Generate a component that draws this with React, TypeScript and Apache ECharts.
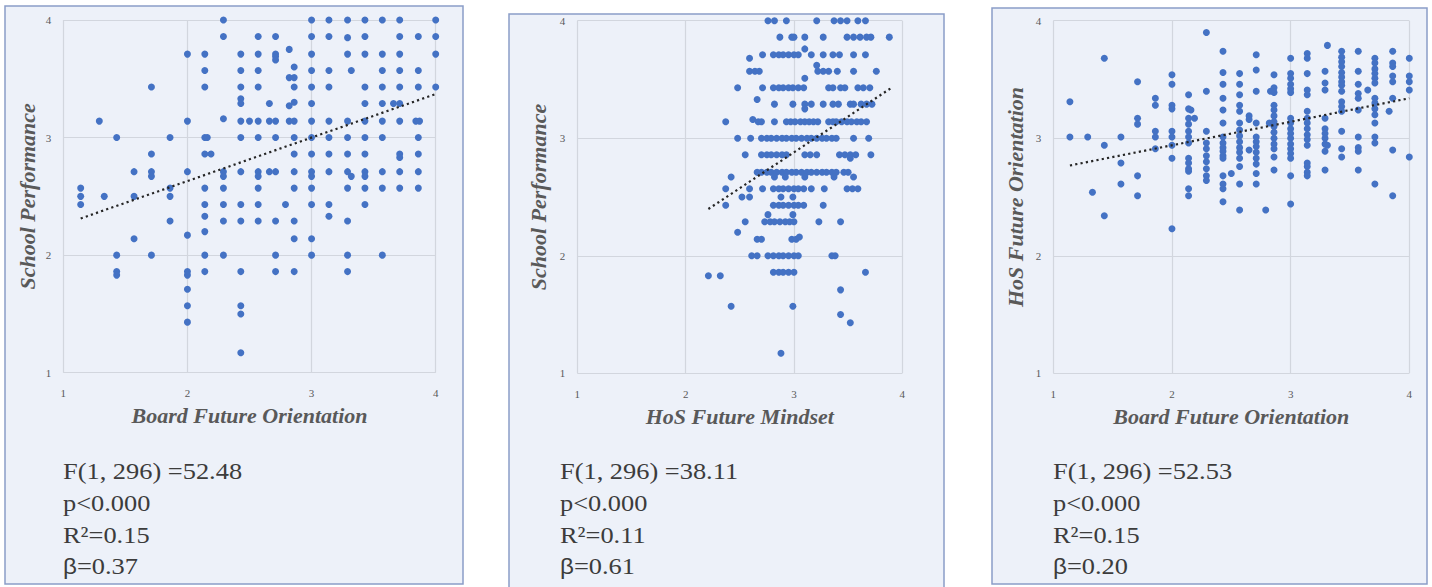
import React, { useEffect, useRef } from "react";
import * as echarts from "echarts";

// Board Future Orientation (x) vs School Performance (y)
const boardVsSchool: [number, number][] = [
  [1.14, 2.57], [1.14, 2.5], [1.14, 2.43],
  [1.29, 3.14],
  [1.33, 2.5],
  [1.43, 3.0], [1.43, 2.0], [1.43, 1.86], [1.43, 1.83],
  [1.57, 2.71], [1.57, 2.5], [1.57, 2.14],
  [1.71, 3.43], [1.71, 2.86], [1.71, 2.71], [1.71, 2.67], [1.71, 2.0],
  [1.86, 3.0], [1.86, 2.57], [1.86, 2.5], [1.86, 2.29],
  [2.0, 3.71], [2.0, 3.14], [2.0, 2.71], [2.0, 2.17], [2.0, 1.86], [2.0, 1.83], [2.0, 1.71], [2.0, 1.57], [2.0, 1.43],
  [2.14, 3.71], [2.14, 3.57], [2.14, 3.43], [2.14, 3.0], [2.16, 3.0], [2.14, 2.86], [2.19, 2.86], [2.14, 2.57],
  [2.14, 2.43], [2.14, 2.33], [2.14, 2.2], [2.14, 2.0], [2.14, 1.86],
  [2.29, 4.0], [2.29, 3.86], [2.29, 3.16], [2.29, 2.71], [2.29, 2.67], [2.29, 2.57], [2.29, 2.43], [2.29, 2.29], [2.29, 2.0],
  [2.43, 3.71], [2.43, 3.57], [2.43, 3.43], [2.43, 3.33], [2.43, 3.29], [2.43, 3.14], [2.43, 3.0], [2.43, 2.71],
  [2.43, 2.43], [2.43, 2.29], [2.43, 1.86], [2.43, 1.57], [2.43, 1.5], [2.43, 1.17],
  [2.5, 3.14],
  [2.57, 3.86], [2.57, 3.71], [2.57, 3.57], [2.57, 3.43], [2.57, 3.14], [2.57, 3.0], [2.57, 2.71], [2.57, 2.67],
  [2.57, 2.57], [2.57, 2.43], [2.57, 2.29],
  [2.66, 3.29], [2.66, 3.14], [2.66, 2.71],
  [2.71, 3.86], [2.71, 3.71], [2.71, 3.69], [2.71, 3.66], [2.71, 3.14], [2.71, 3.0], [2.71, 2.71], [2.71, 2.29], [2.71, 2.0], [2.71, 1.86],
  [2.79, 2.43],
  [2.82, 3.75], [2.82, 3.51], [2.82, 3.27], [2.82, 3.14],
  [2.86, 3.6], [2.86, 3.51], [2.86, 3.43], [2.86, 3.3], [2.86, 3.14], [2.86, 3.0], [2.86, 2.86], [2.86, 2.71],
  [2.86, 2.57], [2.86, 2.29], [2.86, 2.14], [2.86, 1.86],
  [3.0, 4.0], [3.0, 3.86], [3.0, 3.71], [3.0, 3.57], [3.0, 3.43], [3.0, 3.29], [3.0, 3.14], [3.0, 3.0], [3.0, 2.86],
  [3.0, 2.71], [3.0, 2.67], [3.0, 2.57], [3.0, 2.43], [3.0, 2.14], [3.0, 2.0],
  [3.14, 4.0], [3.14, 3.86], [3.14, 3.57], [3.14, 3.43], [3.14, 3.14], [3.14, 3.0], [3.14, 2.86], [3.14, 2.71], [3.14, 2.43], [3.14, 2.33],
  [3.29, 4.0], [3.29, 3.85], [3.29, 3.71], [3.29, 3.14], [3.29, 3.0], [3.29, 2.86], [3.29, 2.71], [3.29, 2.57],
  [3.29, 2.29], [3.29, 2.0], [3.29, 1.86],
  [3.32, 3.57], [3.32, 2.67],
  [3.43, 4.0], [3.43, 3.86], [3.43, 3.71], [3.43, 3.43], [3.43, 3.29], [3.43, 3.14], [3.43, 3.0], [3.43, 2.86],
  [3.43, 2.71], [3.43, 2.67], [3.43, 2.57], [3.43, 2.43],
  [3.57, 4.0], [3.57, 3.71], [3.57, 3.57], [3.57, 3.43], [3.57, 3.29], [3.57, 3.14], [3.57, 3.0], [3.57, 2.71], [3.57, 2.57], [3.57, 2.0],
  [3.66, 3.29],
  [3.71, 4.0], [3.71, 3.86], [3.71, 3.71], [3.71, 3.57], [3.71, 3.43], [3.71, 3.29], [3.71, 3.14], [3.71, 2.86],
  [3.71, 2.83], [3.71, 2.71], [3.71, 2.57],
  [3.86, 3.86], [3.86, 3.57], [3.86, 3.43], [3.84, 3.14], [3.87, 3.14], [3.86, 3.0], [3.86, 2.86], [3.86, 2.71], [3.86, 2.57],
  [4.0, 4.0], [4.0, 3.86], [4.0, 3.71], [4.0, 3.43],
];

// HoS Future Mindset (x) vs School Performance (y)
const mindsetVsSchool: [number, number][] = [
  [2.76, 4.0], [2.82, 4.0], [2.93, 4.0], [3.21, 4.0], [3.37, 4.0], [3.43, 4.0], [3.49, 4.0], [3.59, 4.0], [3.66, 4.0],
  [2.87, 3.86], [2.98, 3.86], [3.0, 3.86], [3.1, 3.86], [3.27, 3.86], [3.49, 3.86], [3.55, 3.86], [3.61, 3.86],
  [3.67, 3.86], [3.71, 3.86], [3.88, 3.86],
  [2.59, 3.68], [2.71, 3.71], [2.81, 3.71], [2.86, 3.71], [2.9, 3.71], [2.95, 3.71], [3.0, 3.71], [3.04, 3.71],
  [3.1, 3.76], [3.16, 3.71], [3.27, 3.71], [3.36, 3.71], [3.42, 3.71], [3.55, 3.71], [3.66, 3.71],
  [2.59, 3.57], [2.64, 3.57], [2.68, 3.57], [3.21, 3.62], [3.22, 3.57], [3.27, 3.57], [3.32, 3.57], [3.4, 3.57],
  [3.55, 3.57], [3.76, 3.57], [3.1, 3.51],
  [2.48, 3.43], [2.66, 3.33], [2.71, 3.43], [2.81, 3.43], [2.86, 3.43], [2.9, 3.43], [2.95, 3.43], [2.99, 3.43],
  [3.04, 3.43], [3.09, 3.43], [3.32, 3.43], [3.36, 3.43], [3.43, 3.43], [3.47, 3.43], [3.59, 3.43], [3.64, 3.43], [3.7, 3.43],
  [2.82, 3.29], [2.99, 3.29], [3.1, 3.29], [3.1, 3.25], [3.16, 3.29], [3.27, 3.29], [3.36, 3.29], [3.41, 3.29],
  [3.52, 3.29], [3.55, 3.29], [3.62, 3.29], [3.67, 3.29], [3.72, 3.29],
  [2.37, 3.14], [2.62, 3.16], [2.67, 3.14], [2.7, 3.14], [2.82, 3.14], [2.93, 3.14], [2.97, 3.14], [3.01, 3.14],
  [3.06, 3.14], [3.1, 3.14], [3.14, 3.14], [3.18, 3.14], [3.22, 3.14], [3.32, 3.14], [3.36, 3.14], [3.39, 3.14],
  [3.44, 3.14], [3.49, 3.14], [3.53, 3.14], [3.58, 3.14], [3.62, 3.14], [3.67, 3.14],
  [2.48, 3.0], [2.6, 3.0], [2.7, 3.0], [2.75, 3.0], [2.79, 3.0], [2.84, 3.0], [2.89, 3.0], [2.93, 3.0], [2.98, 3.0],
  [3.02, 3.0], [3.07, 3.0], [3.12, 3.0], [3.16, 3.0], [3.21, 3.0], [3.26, 3.0], [3.3, 3.0], [3.35, 3.0], [3.39, 3.0],
  [3.55, 3.0], [3.69, 3.0],
  [2.55, 2.86], [2.7, 2.86], [2.75, 2.86], [2.79, 2.86], [2.84, 2.86], [2.89, 2.86], [2.93, 2.86], [3.1, 2.86],
  [3.15, 2.86], [3.21, 2.86], [3.42, 2.86], [3.47, 2.86], [3.52, 2.86], [3.57, 2.86], [3.52, 2.83], [3.71, 2.86],
  [2.66, 2.71], [2.7, 2.71], [2.75, 2.71], [2.79, 2.71], [2.84, 2.71], [2.89, 2.71], [2.93, 2.71], [2.98, 2.71],
  [3.02, 2.71], [3.07, 2.71], [3.12, 2.71], [3.16, 2.71], [3.21, 2.71], [3.26, 2.71], [3.3, 2.71], [3.35, 2.71],
  [3.39, 2.71], [3.46, 2.71], [3.5, 2.71],
  [2.42, 2.67], [2.82, 2.67], [2.92, 2.67], [3.1, 2.67], [3.37, 2.67], [3.55, 2.67],
  [2.37, 2.57], [2.59, 2.57], [2.71, 2.57], [2.81, 2.57], [2.86, 2.57], [2.9, 2.57], [2.95, 2.57], [3.0, 2.57],
  [3.04, 2.57], [3.09, 2.57], [3.16, 2.57], [3.28, 2.57], [3.49, 2.57], [3.54, 2.57], [3.59, 2.57],
  [2.52, 2.5], [2.59, 2.5], [2.88, 2.5], [2.99, 2.5],
  [2.37, 2.43], [2.81, 2.43], [2.86, 2.43], [2.9, 2.43], [2.95, 2.43], [3.0, 2.43], [3.04, 2.43], [3.09, 2.43], [3.27, 2.43],
  [2.55, 2.29], [2.73, 2.29], [2.78, 2.29], [2.82, 2.29], [2.87, 2.29], [2.92, 2.29], [2.96, 2.29], [3.0, 2.29],
  [3.23, 2.29], [3.43, 2.29], [2.76, 2.35], [2.99, 2.35],
  [2.48, 2.2],
  [2.66, 2.14], [2.7, 2.14], [2.98, 2.14], [3.02, 2.14], [3.05, 2.16],
  [2.61, 2.0], [2.66, 2.0], [2.76, 2.0], [2.81, 2.0], [2.86, 2.0], [2.9, 2.0], [2.95, 2.0], [3.0, 2.0], [3.04, 2.0],
  [3.35, 2.0], [3.38, 2.0],
  [2.81, 1.86], [2.86, 1.86], [2.9, 1.86], [2.95, 1.86], [3.0, 1.86], [3.66, 1.86],
  [2.21, 1.83], [2.32, 1.83],
  [3.43, 1.71], [2.42, 1.57], [2.99, 1.57], [3.43, 1.5], [3.52, 1.43], [2.88, 1.17],
];

// Board Future Orientation (x) vs HoS Future Orientation (y)
const boardVsHosOrientation: [number, number][] = [
  [1.14, 3.31], [1.14, 3.01],
  [1.29, 3.01],
  [1.33, 2.54],
  [1.43, 3.68], [1.43, 2.94], [1.43, 2.34],
  [1.57, 3.01], [1.57, 2.79], [1.57, 2.61],
  [1.71, 3.48], [1.71, 3.17], [1.71, 3.12], [1.71, 2.68], [1.71, 2.51],
  [1.86, 3.34], [1.86, 3.28], [1.86, 3.06], [1.86, 3.01], [1.86, 2.91],
  [2.0, 3.54], [2.0, 3.46], [2.0, 3.28], [2.0, 3.25], [2.0, 3.06], [2.0, 3.01], [2.0, 2.94], [2.0, 2.83], [2.0, 2.23],
  [2.14, 3.37], [2.14, 3.25], [2.16, 3.24], [2.14, 3.17], [2.14, 3.12], [2.14, 3.06], [2.14, 3.01], [2.14, 2.96],
  [2.14, 2.83], [2.14, 2.79], [2.14, 2.74], [2.14, 2.72], [2.14, 2.57], [2.14, 2.51],
  [2.19, 3.17],
  [2.29, 3.9], [2.29, 3.4], [2.29, 3.06], [2.29, 2.96], [2.29, 2.91], [2.29, 2.85], [2.29, 2.8], [2.29, 2.74], [2.29, 2.68], [2.29, 2.64],
  [2.43, 3.74], [2.43, 3.56], [2.43, 3.46], [2.43, 3.34], [2.43, 3.24], [2.43, 3.13], [2.43, 3.01], [2.43, 2.96],
  [2.43, 2.92], [2.43, 2.89], [2.43, 2.85], [2.43, 2.83], [2.43, 2.68], [2.43, 2.61], [2.43, 2.57], [2.43, 2.46],
  [2.5, 2.7],
  [2.57, 3.55], [2.57, 3.46], [2.57, 3.37], [2.57, 3.28], [2.57, 3.23], [2.57, 3.13], [2.57, 3.07], [2.57, 3.02],
  [2.57, 2.97], [2.57, 2.92], [2.57, 2.88], [2.57, 2.83], [2.57, 2.76], [2.57, 2.61], [2.57, 2.39],
  [2.65, 3.19], [2.65, 3.16], [2.65, 2.9],
  [2.71, 3.71], [2.71, 3.58], [2.71, 3.4], [2.71, 3.13], [2.71, 3.01], [2.71, 2.97], [2.71, 2.93], [2.71, 2.88],
  [2.71, 2.83], [2.71, 2.78], [2.71, 2.7], [2.71, 2.61],
  [2.79, 2.39],
  [2.86, 3.54], [2.86, 3.43], [2.86, 3.39], [2.83, 3.4], [2.86, 3.28], [2.86, 3.24], [2.86, 3.19], [2.86, 3.14],
  [2.82, 3.13], [2.86, 3.1], [2.86, 3.05], [2.86, 3.0], [2.86, 2.95], [2.86, 2.91], [2.86, 2.84], [2.86, 2.73],
  [3.0, 3.68], [3.0, 3.55], [3.0, 3.51], [3.0, 3.46], [3.0, 3.42], [3.0, 3.39], [3.0, 3.17], [3.0, 3.13], [3.0, 3.08],
  [3.0, 3.04], [3.0, 3.0], [3.0, 2.95], [3.0, 2.91], [3.0, 2.87], [3.0, 2.83], [3.0, 2.68], [3.0, 2.44],
  [3.14, 3.72], [3.14, 3.68], [3.14, 3.55], [3.14, 3.41], [3.14, 3.37], [3.14, 3.23], [3.14, 3.17], [3.14, 3.13],
  [3.14, 3.08], [3.14, 3.03], [3.14, 2.99], [3.14, 2.94], [3.14, 2.79], [3.14, 2.76], [3.14, 2.71], [3.14, 2.68],
  [3.29, 3.57], [3.29, 3.47], [3.29, 3.41], [3.29, 3.17], [3.29, 3.08], [3.29, 3.04], [3.29, 3.0], [3.29, 2.95],
  [3.29, 2.89], [3.29, 2.73],
  [3.31, 3.79], [3.31, 2.94],
  [3.43, 3.74], [3.43, 3.69], [3.43, 3.65], [3.43, 3.61], [3.43, 3.56], [3.43, 3.52], [3.43, 3.48], [3.43, 3.45],
  [3.43, 3.4], [3.43, 3.31], [3.43, 3.27], [3.43, 3.23], [3.43, 3.06], [3.43, 2.91], [3.43, 2.84],
  [3.57, 3.74], [3.57, 3.57], [3.57, 3.46], [3.57, 3.38], [3.57, 3.34], [3.57, 3.24], [3.57, 3.01], [3.57, 2.92],
  [3.57, 2.89], [3.57, 2.73],
  [3.65, 3.41],
  [3.71, 3.68], [3.71, 3.64], [3.71, 3.59], [3.71, 3.55], [3.71, 3.51], [3.71, 3.47], [3.71, 3.34], [3.71, 3.3],
  [3.71, 3.25], [3.71, 3.2], [3.71, 3.13], [3.71, 3.01], [3.71, 2.96], [3.71, 2.61],
  [3.83, 3.23],
  [3.86, 3.74], [3.86, 3.64], [3.86, 3.61], [3.86, 3.53], [3.86, 3.48], [3.86, 3.34], [3.86, 2.9], [3.86, 2.51],
  [4.0, 3.68], [4.0, 3.53], [4.0, 3.48], [4.0, 3.41], [4.0, 2.84],
];

const panelPoints = [boardVsSchool, mindsetVsSchool, boardVsHosOrientation];
const xTitles = ["Board Future Orientation", "HoS Future Mindset", "Board Future Orientation"];
const yTitles = ["School Performance", "School Performance", "HoS Future Orientation"];

// Regression statistics printed under each plot
const fValues = ["52.48", "38.11", "52.53"];
const pValues = ["0.000", "0.000", "0.000"];
const rSquared = ["0.15", "0.11", "0.15"];
const betas = [0.37, 0.61, 0.2];

// Linear trend: intercept, slope (beta) and x-extent of the fitted line
const intercepts = [1.89, 1.05, 2.54];
const trendStart = [1.14, 2.21, 1.14];
const trendEnd = [4.0, 3.9, 4.0];

const AXIS_MIN = 1;
const AXIS_MAX = 4;
const AXIS_STEP = 1;

// Layout (pixels)
const panels = [
  { x: 5, y: 6, w: 458, h: 578 },
  { x: 509, y: 14, w: 435, h: 582 },
  { x: 992, y: 8, w: 435, h: 576 },
];
const grids = [
  { left: 63.3, top: 20, width: 372.4, height: 352.7, yGap: 36 },
  { left: 577.3, top: 20.7, width: 325, height: 352.6, yGap: 39 },
  { left: 1053.3, top: 20.7, width: 356, height: 352.6, yGap: 37.5 },
];
const statsX = [63, 560, 1053];
const statsLineY = [471, 503, 535, 566];

const DOT_COLOR = "#4472C4";
const TITLE_COLOR = "#595959";
const TEXT_COLOR = "#3c3c3c";
const SERIF = "'Liberation Serif', 'Times New Roman', serif";

export default function App() {
  const ref = useRef<HTMLDivElement>(null);

  useEffect(() => {
    if (!ref.current) return;
    const chart = echarts.init(ref.current, undefined, { renderer: "svg" });

    const graphic: any[] = [];
    panels.forEach((p) => {
      graphic.push({
        type: "rect",
        z: -10,
        shape: { x: p.x, y: p.y, width: p.w, height: p.h },
        style: { fill: "#EDF1F9", stroke: "#8A9DC8", lineWidth: 1.5 },
      });
    });
    statsX.forEach((sx, i) => {
      const lines = [
        `F(1, 296) =${fValues[i]}`,
        `p<${pValues[i]}`,
        `R²=${rSquared[i]}`,
        `{g|β}=${betas[i].toFixed(2)}`,
      ];
      lines.forEach((t, j) => {
        graphic.push({
          type: "text",
          x: sx,
          y: statsLineY[j],
          scaleX: 1.1,
          z: 10,
          style: {
            text: t,
            x: 0,
            y: 0,
            fill: TEXT_COLOR,
            font: `24px ${SERIF}`,
            textAlign: "left",
            textVerticalAlign: "middle",
            rich: {
              g: {
                fontFamily: "'Liberation Sans', 'DejaVu Sans', sans-serif",
                fontSize: 22,
                fill: TEXT_COLOR,
              },
            },
          },
        });
      });
    });

    const splitStyle = { show: true, lineStyle: { color: "#D2D6DE", width: 1.2 } };
    const labelStyle = { color: TITLE_COLOR, fontSize: 11, fontFamily: SERIF };
    const nameStyle = {
      fontFamily: SERIF,
      fontStyle: "italic",
      fontWeight: "bold",
      fontSize: 22,
      color: TITLE_COLOR,
      verticalAlign: "middle",
    };

    const option: any = {
      animation: false,
      backgroundColor: "#ffffff",
      graphic: { elements: graphic },
      grid: grids.map((g) => ({
        left: g.left,
        top: g.top,
        width: g.width,
        height: g.height,
        containLabel: false,
      })),
      xAxis: grids.map((g, i) => ({
        gridIndex: i,
        type: "value",
        min: AXIS_MIN,
        max: AXIS_MAX,
        interval: AXIS_STEP,
        axisLine: { show: false },
        axisTick: { show: false },
        splitLine: splitStyle,
        axisLabel: { ...labelStyle, margin: 15 },
        name: xTitles[i],
        nameLocation: "middle",
        nameGap: 43,
        nameTextStyle: nameStyle,
      })),
      yAxis: grids.map((g, i) => ({
        gridIndex: i,
        type: "value",
        min: AXIS_MIN,
        max: AXIS_MAX,
        interval: AXIS_STEP,
        axisLine: { show: false },
        axisTick: { show: false },
        splitLine: splitStyle,
        axisLabel: { ...labelStyle, margin: 12 },
        name: yTitles[i],
        nameLocation: "middle",
        nameGap: g.yGap,
        nameTextStyle: nameStyle,
      })),
      series: [
        ...panelPoints.map((pts, i) => ({
          type: "scatter",
          xAxisIndex: i,
          yAxisIndex: i,
          data: pts,
          symbol: "circle",
          symbolSize: 7,
          itemStyle: { color: DOT_COLOR, opacity: 1 },
          z: 2,
        })),
        ...intercepts.map((a, i) => ({
          type: "line",
          xAxisIndex: i,
          yAxisIndex: i,
          data: [
            [trendStart[i], a + betas[i] * trendStart[i]],
            [trendEnd[i], a + betas[i] * trendEnd[i]],
          ],
          symbol: "none",
          silent: true,
          lineStyle: { color: "#262626", width: 2.2, type: [2.2, 3.2] },
          z: 3,
        })),
      ],
    };

    chart.setOption(option);
    return () => chart.dispose();
  }, []);

  return (
    <div
      ref={ref}
      style={{ position: "absolute", left: 0, top: 0, width: 1432, height: 587 }}
    />
  );
}
